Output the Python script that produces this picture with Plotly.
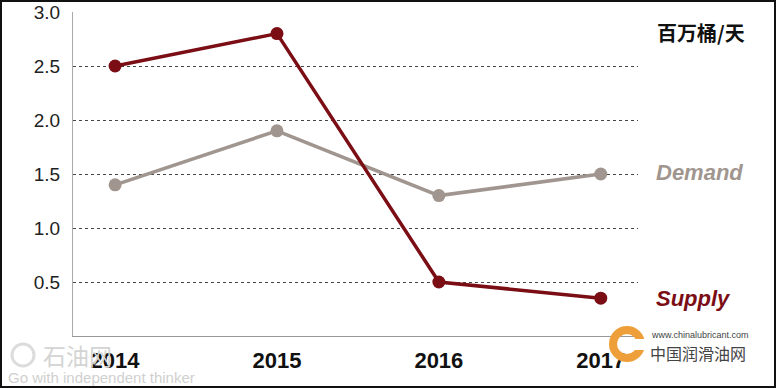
import plotly.graph_objects as go

years = [2014, 2015, 2016, 2017]
year_labels = ["2014", "2015", "2016", "2017"]
supply = [2.5, 2.8, 0.5, 0.35]
demand = [1.4, 1.9, 1.3, 1.5]
y_ticks = [0.5, 1.0, 1.5, 2.0, 2.5, 3.0]
y_tick_labels = ["0.5", "1.0", "1.5", "2.0", "2.5", "3.0"]

W, H = 776, 388
ML, MR, MT, MB = 73, 138, 12, 52
PW, PH = W - ML - MR, H - MT - MB

SUPPLY_C = "#7b0d15"
DEMAND_C = "#a0968f"

fig = go.Figure()
fig.add_trace(go.Scatter(x=years, y=demand, mode="lines+markers",
                         line=dict(color=DEMAND_C, width=3.5),
                         marker=dict(size=13, color=DEMAND_C), showlegend=False))
fig.add_trace(go.Scatter(x=years, y=supply, mode="lines+markers",
                         line=dict(color=SUPPLY_C, width=3.5),
                         marker=dict(size=13, color=SUPPLY_C), showlegend=False))

def px(xp):
    return (xp - ML) / PW

def py(yp):
    return (H - MB - yp) / PH

def ann(text, x, y, size, color, family):
    return dict(text=text, x=px(x), y=py(y), xref="paper", yref="paper",
                xanchor="left", yanchor="middle", showarrow=False,
                font=dict(size=size, color=color, family=family))

annotations = [
    ann("<b>百万桶/天</b>", 655, 32, 20, "#111", "Noto Sans CJK SC"),
    ann("<b><i>Demand</i></b>", 654, 172, 22, DEMAND_C, "Liberation Sans"),
    ann("<b><i>Supply</i></b>", 654, 298, 22, SUPPLY_C, "Liberation Sans"),
    ann("石油网", 41, 355, 23, "#d4d4d4", "Noto Sans CJK SC"),
    ann("Go with independent thinker", 6, 378, 15, "#d0d0d0", "Liberation Sans"),
    ann("www.chinalubricant.com", 649, 335, 9, "#444", "Liberation Sans"),
    ann("中国润滑油网", 648, 353, 16, "#444", "Noto Sans CJK SC"),
]

shapes = [
    dict(type="rect", xref="paper", yref="paper", x0=px(1), x1=px(W - 1), y0=py(H - 1), y1=py(1),
         line=dict(color="#111", width=2), layer="above"),
    dict(type="circle", xref="paper", yref="paper", x0=px(12), x1=px(34), y0=py(366), y1=py(344),
         line=dict(color="#dcdcdc", width=3), layer="below"),
    dict(type="circle", xref="paper", yref="paper", x0=px(613), x1=px(641), y0=py(358), y1=py(330),
         line=dict(color="#ee9f3a", width=8), layer="above"),
    dict(type="rect", xref="paper", yref="paper", x0=px(631), x1=px(647), y0=py(350), y1=py(339),
         line=dict(width=0), fillcolor="white", layer="above"),
]

fig.update_layout(
    width=W, height=H,
    margin=dict(l=ML, r=MR, t=MT, b=MB, autoexpand=False),
    paper_bgcolor="white", plot_bgcolor="white",
    font=dict(family="Liberation Sans", color="#222"),
    annotations=annotations, shapes=shapes,
    xaxis=dict(range=[2013.74, 2017.23], tickvals=years, ticktext=year_labels,
               showgrid=False, zeroline=False, showline=True, linecolor="#999", linewidth=1,
               tickfont=dict(size=22, color="#111", family="Liberation Sans", weight="bold"),
               ticks="", ticklabelstandoff=5, automargin=False),
    yaxis=dict(range=[0, 3.0], tickvals=y_ticks, ticktext=y_tick_labels,
               showgrid=True, gridcolor="#444", griddash="dot", gridwidth=1,
               zeroline=False, showline=True, linecolor="#aaa", linewidth=1,
               tickfont=dict(size=19, color="#222"), ticks="", ticklabelstandoff=8,
               automargin=False),
)

fig.write_html("out.html", config={"displayModeBar": False},
               post_script="document.body.style.margin='0';document.body.style.padding='0';")
